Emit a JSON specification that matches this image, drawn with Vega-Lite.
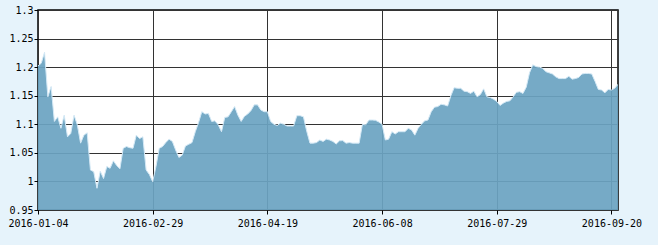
{
  "$schema": "https://vega.github.io/schema/vega-lite/v6.json",
  "width": 580,
  "height": 200,
  "autosize": {"type": "none"},
  "padding": {"left": 38, "top": 10, "right": 40, "bottom": 35},
  "background": "#e6f3fb",
  "config": {
    "view": {"fill": "white", "stroke": "#000000", "strokeWidth": 1.5},
    "axis": {"labelFont": "DejaVu Sans Mono", "labelFontSize": 10, "labelColor": "#000000", "domainColor": "#000000", "tickColor": "#000000", "gridColor": "#333333", "gridWidth": 1, "gridOpacity": 1, "title": null}
  },
  "data": {"values": [
    {"date":"2016-01-04","v":1.202},{"date":"2016-01-05","v":1.207},{"date":"2016-01-06","v":1.226},{"date":"2016-01-07","v":1.148},{"date":"2016-01-08","v":1.166},
    {"date":"2016-01-11","v":1.105},{"date":"2016-01-12","v":1.113},{"date":"2016-01-13","v":1.093},{"date":"2016-01-14","v":1.116},{"date":"2016-01-15","v":1.078},
    {"date":"2016-01-18","v":1.084},{"date":"2016-01-19","v":1.116},{"date":"2016-01-20","v":1.099},{"date":"2016-01-21","v":1.067},{"date":"2016-01-22","v":1.081},
    {"date":"2016-01-25","v":1.085},{"date":"2016-01-26","v":1.020},{"date":"2016-01-27","v":1.017},{"date":"2016-01-28","v":0.988},{"date":"2016-01-29","v":1.018},
    {"date":"2016-02-01","v":1.005},{"date":"2016-02-02","v":1.026},{"date":"2016-02-03","v":1.023},{"date":"2016-02-04","v":1.036},{"date":"2016-02-05","v":1.028},
    {"date":"2016-02-15","v":1.022},{"date":"2016-02-16","v":1.058},{"date":"2016-02-17","v":1.061},{"date":"2016-02-18","v":1.059},{"date":"2016-02-19","v":1.058},
    {"date":"2016-02-22","v":1.081},{"date":"2016-02-23","v":1.075},{"date":"2016-02-24","v":1.078},{"date":"2016-02-25","v":1.020},{"date":"2016-02-26","v":1.012},
    {"date":"2016-02-29","v":0.9995},
    {"date":"2016-03-01","v":1.026},{"date":"2016-03-02","v":1.058},{"date":"2016-03-03","v":1.061},{"date":"2016-03-04","v":1.068},
    {"date":"2016-03-07","v":1.074},{"date":"2016-03-08","v":1.070},{"date":"2016-03-09","v":1.055},{"date":"2016-03-10","v":1.042},{"date":"2016-03-11","v":1.046},
    {"date":"2016-03-14","v":1.062},{"date":"2016-03-15","v":1.065},{"date":"2016-03-16","v":1.068},{"date":"2016-03-17","v":1.087},{"date":"2016-03-18","v":1.103},
    {"date":"2016-03-21","v":1.122},{"date":"2016-03-22","v":1.118},{"date":"2016-03-23","v":1.119},{"date":"2016-03-24","v":1.105},{"date":"2016-03-25","v":1.106},
    {"date":"2016-03-28","v":1.099},{"date":"2016-03-29","v":1.087},{"date":"2016-03-30","v":1.112},{"date":"2016-03-31","v":1.113},
    {"date":"2016-04-01","v":1.122},
    {"date":"2016-04-05","v":1.131},{"date":"2016-04-06","v":1.116},{"date":"2016-04-07","v":1.105},{"date":"2016-04-08","v":1.114},
    {"date":"2016-04-11","v":1.118},{"date":"2016-04-12","v":1.124},{"date":"2016-04-13","v":1.134},{"date":"2016-04-14","v":1.134},{"date":"2016-04-15","v":1.125},
    {"date":"2016-04-18","v":1.122},{"date":"2016-04-19","v":1.122},{"date":"2016-04-20","v":1.105},{"date":"2016-04-21","v":1.100},{"date":"2016-04-22","v":1.098},
    {"date":"2016-04-25","v":1.102},{"date":"2016-04-26","v":1.100},{"date":"2016-04-27","v":1.097},{"date":"2016-04-28","v":1.097},{"date":"2016-04-29","v":1.097},
    {"date":"2016-05-03","v":1.115},{"date":"2016-05-04","v":1.115},{"date":"2016-05-05","v":1.113},{"date":"2016-05-06","v":1.088},
    {"date":"2016-05-09","v":1.067},{"date":"2016-05-10","v":1.067},{"date":"2016-05-11","v":1.068},{"date":"2016-05-12","v":1.0725},{"date":"2016-05-13","v":1.070},
    {"date":"2016-05-16","v":1.074},{"date":"2016-05-17","v":1.0725},{"date":"2016-05-18","v":1.070},{"date":"2016-05-19","v":1.0655},{"date":"2016-05-20","v":1.071},
    {"date":"2016-05-23","v":1.0715},{"date":"2016-05-24","v":1.067},{"date":"2016-05-25","v":1.068},{"date":"2016-05-26","v":1.067},{"date":"2016-05-27","v":1.067},
    {"date":"2016-05-30","v":1.067},{"date":"2016-05-31","v":1.100},
    {"date":"2016-06-01","v":1.099},{"date":"2016-06-02","v":1.1075},{"date":"2016-06-03","v":1.1075},
    {"date":"2016-06-06","v":1.107},{"date":"2016-06-07","v":1.104},{"date":"2016-06-08","v":1.100},
    {"date":"2016-06-13","v":1.0725},{"date":"2016-06-14","v":1.074},{"date":"2016-06-15","v":1.087},{"date":"2016-06-16","v":1.083},{"date":"2016-06-17","v":1.087},
    {"date":"2016-06-20","v":1.087},{"date":"2016-06-21","v":1.087},{"date":"2016-06-22","v":1.093},{"date":"2016-06-23","v":1.090},{"date":"2016-06-24","v":1.081},
    {"date":"2016-06-27","v":1.093},{"date":"2016-06-28","v":1.100},{"date":"2016-06-29","v":1.106},{"date":"2016-06-30","v":1.1075},
    {"date":"2016-07-01","v":1.122},
    {"date":"2016-07-04","v":1.130},{"date":"2016-07-05","v":1.131},{"date":"2016-07-06","v":1.135},{"date":"2016-07-07","v":1.134},{"date":"2016-07-08","v":1.132},
    {"date":"2016-07-11","v":1.150},{"date":"2016-07-12","v":1.164},{"date":"2016-07-13","v":1.163},{"date":"2016-07-14","v":1.163},{"date":"2016-07-15","v":1.158},
    {"date":"2016-07-18","v":1.157},{"date":"2016-07-19","v":1.154},{"date":"2016-07-20","v":1.158},{"date":"2016-07-21","v":1.148},{"date":"2016-07-22","v":1.152},
    {"date":"2016-07-25","v":1.162},{"date":"2016-07-26","v":1.148},{"date":"2016-07-27","v":1.147},{"date":"2016-07-28","v":1.144},{"date":"2016-07-29","v":1.140},
    {"date":"2016-08-01","v":1.133},{"date":"2016-08-02","v":1.137},{"date":"2016-08-03","v":1.140},{"date":"2016-08-04","v":1.141},{"date":"2016-08-05","v":1.148},
    {"date":"2016-08-08","v":1.156},{"date":"2016-08-09","v":1.157},{"date":"2016-08-10","v":1.154},{"date":"2016-08-11","v":1.165},{"date":"2016-08-12","v":1.190},
    {"date":"2016-08-15","v":1.204},{"date":"2016-08-16","v":1.201},{"date":"2016-08-17","v":1.200},{"date":"2016-08-18","v":1.198},{"date":"2016-08-19","v":1.192},
    {"date":"2016-08-22","v":1.190},{"date":"2016-08-23","v":1.188},{"date":"2016-08-24","v":1.183},{"date":"2016-08-25","v":1.180},{"date":"2016-08-26","v":1.180},
    {"date":"2016-08-29","v":1.180},{"date":"2016-08-30","v":1.184},{"date":"2016-08-31","v":1.179},
    {"date":"2016-09-01","v":1.180},{"date":"2016-09-02","v":1.182},
    {"date":"2016-09-05","v":1.188},{"date":"2016-09-06","v":1.189},{"date":"2016-09-07","v":1.189},{"date":"2016-09-08","v":1.188},{"date":"2016-09-09","v":1.175},
    {"date":"2016-09-12","v":1.161},{"date":"2016-09-13","v":1.160},{"date":"2016-09-14","v":1.155},
    {"date":"2016-09-19","v":1.161},{"date":"2016-09-20","v":1.160},{"date":"2016-09-21","v":1.163},{"date":"2016-09-22","v":1.170}
  ]},
  "mark": {"type": "area", "color": "#6ca4c2", "opacity": 0.93, "line": {"color": "#d4e9f6", "strokeWidth": 1}, "clip": true},
  "encoding": {
    "x": {
      "field": "date", "type": "ordinal", "sort": "ascending",
      "scale": {"type": "point", "padding": 0},
      "axis": {"values": ["2016-01-04", "2016-02-29", "2016-04-19", "2016-06-08", "2016-07-29", "2016-09-20"], "labelAngle": 0, "labelOverlap": false, "labelPadding": 4, "tickSize": 4, "grid": true, "domain": false}
    },
    "y": {
      "field": "v", "type": "quantitative",
      "scale": {"domain": [0.95, 1.3], "nice": false, "zero": false},
      "axis": {"values": [0.95, 1, 1.05, 1.1, 1.15, 1.2, 1.25, 1.3], "labelExpr": "'' + datum.value", "tickSize": 4, "labelPadding": 1, "grid": true, "domain": false}
    }
  }
}
